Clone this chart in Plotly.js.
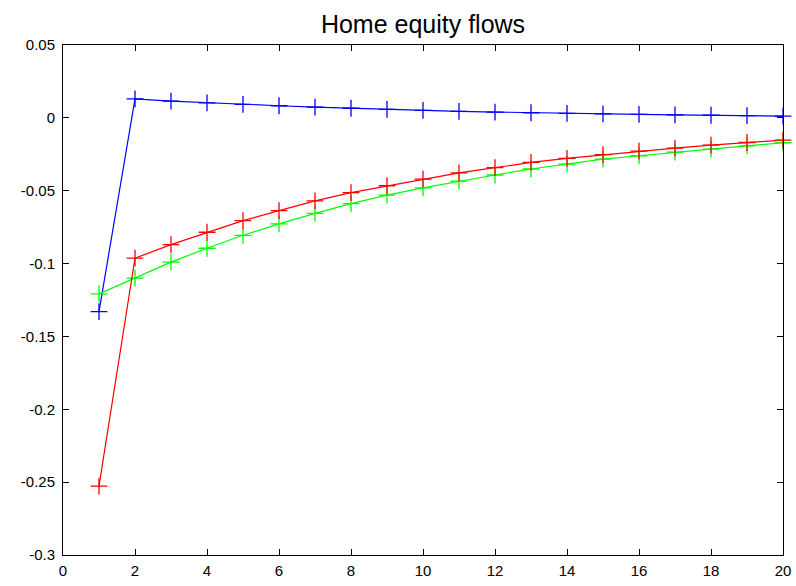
<!DOCTYPE html>
<html>
<head>
<meta charset="utf-8">
<script src="https://cdn.plot.ly/plotly-3.0.1.min.js"></script>
<style>html,body{margin:0;padding:0;background:#fff;}#chart{width:796px;height:586px;}</style>
</head>
<body>
<div id="chart"></div>
<script>
var periods = [1,2,3,4,5,6,7,8,9,10,11,12,13,14,15,16,17,18,19,20];
var blueSeries = [-0.133,0.013,0.0115,0.0103,0.0092,0.0083,0.0074,0.0066,0.0058,0.0051,0.0045,0.004,0.0035,0.0031,0.0027,0.0024,0.0021,0.0018,0.0015,0.0012];
var redSeries = [-0.2527,-0.0963,-0.087,-0.0785,-0.0705,-0.0637,-0.057,-0.0513,-0.0466,-0.042,-0.0377,-0.0342,-0.0306,-0.0278,-0.0253,-0.0228,-0.0208,-0.0187,-0.0169,-0.0153];
var greenSeries = [-0.1208,-0.110,-0.099,-0.0895,-0.0806,-0.0728,-0.0655,-0.0589,-0.053,-0.048,-0.0434,-0.0392,-0.0351,-0.0317,-0.0283,-0.026,-0.0235,-0.0214,-0.0192,-0.0171];
var xTicks = [0,2,4,6,8,10,12,14,16,18,20];
var yTickVals = [0.05,0,-0.05,-0.1,-0.15,-0.2,-0.25,-0.3];
var yTickText = ["0.05","0","-0.05","-0.1","-0.15","-0.2","-0.25","-0.3"];
var titleText = "Home equity flows";

function tr(y, c){
  return {x: periods, y: y, type:'scatter', mode:'lines+markers',
    line:{color:c, width:1.2},
    marker:{symbol:'cross-thin', size:12, line:{color:c, width:1.3}, color:c},
    showlegend:false, cliponaxis:false};
}
var data = [tr(blueSeries,'#0000ff'), tr(greenSeries,'#00ff00'), tr(redSeries,'#ff0000')];
var axisCommon = {showgrid:false, zeroline:false, showline:true, linecolor:'#000', linewidth:1,
  mirror:'ticks', ticks:'inside', ticklen:6, tickcolor:'#000',
  tickfont:{family:'Liberation Sans, Arial, sans-serif', size:15, color:'#000'}};
var layout = {
  width:796, height:586,
  margin:{l:63, r:13, t:45, b:31},
  paper_bgcolor:'#fff', plot_bgcolor:'#fff',
  title:{text:titleText, x:0.5, xref:'paper', y:0.944, yref:'container', yanchor:'bottom',
    font:{family:'Liberation Sans, Arial, sans-serif', size:25, color:'#000'}},
  xaxis:Object.assign({}, axisCommon, {range:[0,20], tickvals:xTicks, ticktext:xTicks.map(String), ticklabelstandoff:2}),
  yaxis:Object.assign({}, axisCommon, {range:[-0.3,0.05], tickvals:yTickVals, ticktext:yTickText, ticklabelstandoff:4})
};
Plotly.newPlot('chart', data, layout, {staticPlot:true, displayModeBar:false});
</script>
</body>
</html>
